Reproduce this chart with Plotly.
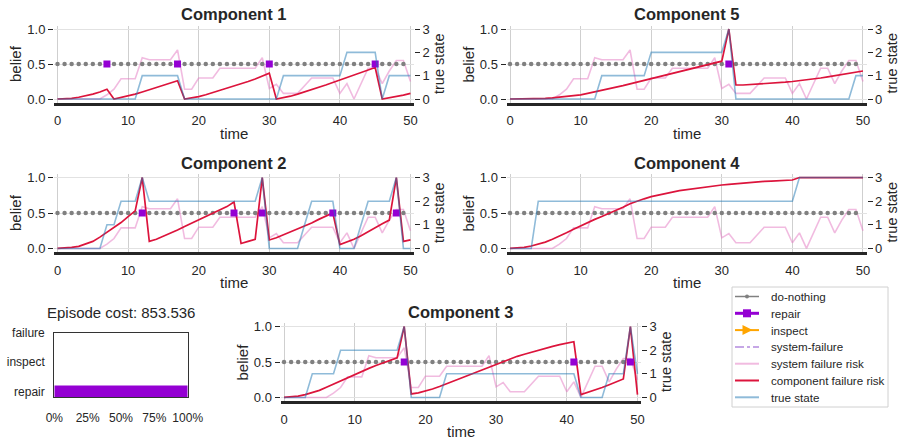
import plotly.graph_objects as go

# ---------------- data ----------------
T = list(range(51))          # belief / state time steps
ACT_T = list(range(50))      # action time steps

SYS_RISK = [0, 0, 0, 0, 0, 0, 0, 0.06, 0.14, 0.29, 0.29, 0.29, 0.59, 0.56, 0.56, 0.56, 0.56,
            0.70, 0.14, 0.14, 0.30, 0.30, 0.30, 0.44, 0.44, 0.44, 0.44, 0.44, 0.44, 0.59, 0.15,
            0.21, 0.08, 0.08, 0.08, 0.19, 0.30, 0.30, 0.30, 0.30, 0.08, 0.22, 0.0, 0.22, 0.44,
            0.44, 0.22, 0.40, 0.55, 0.55, 0.25]

C1_RISK = [0.0, 0.003, 0.01, 0.025, 0.045, 0.07, 0.10, 0.14, 0.0, 0.02, 0.045, 0.07, 0.10, 0.13,
           0.16, 0.19, 0.225, 0.26, 0.0, 0.015, 0.035, 0.06, 0.09, 0.12, 0.15, 0.18, 0.215, 0.25,
           0.285, 0.325, 0.37, 0.0, 0.015, 0.04, 0.07, 0.10, 0.135, 0.17, 0.20, 0.235, 0.27, 0.30,
           0.34, 0.37, 0.41, 0.45, 0.0, 0.015, 0.035, 0.055, 0.08]
C1_STATE = [0] * 12 + [1] * 6 + [0] * 14 + [1] * 9 + [2] * 5 + [0] + [1] * 4
C1_REPAIR = [7, 17, 30, 45]

C5_RISK = [0.0, 0.0, 0.001, 0.002, 0.004, 0.008, 0.015, 0.025, 0.035, 0.047, 0.06, 0.08, 0.10,
           0.12, 0.145, 0.17, 0.19, 0.215, 0.24, 0.265, 0.29, 0.315, 0.34, 0.36, 0.385, 0.41,
           0.435, 0.46, 0.485, 0.51, 0.54, 1.0, 0.20, 0.20, 0.205, 0.21, 0.215, 0.225, 0.23, 0.24,
           0.25, 0.26, 0.27, 0.285, 0.30, 0.315, 0.33, 0.345, 0.36, 0.38, 0.40]
C5_STATE = [0] * 13 + [1] * 7 + [2] * 11 + [3] + [0] * 17 + [1] * 2
C5_REPAIR = [31]

C2_RISK = [0.0, 0.005, 0.015, 0.03, 0.06, 0.10, 0.16, 0.23, 0.30, 0.365, 0.45, 0.53, 1.0, 0.10,
           0.13, 0.17, 0.21, 0.26, 0.31, 0.355, 0.40, 0.45, 0.50, 0.545, 0.59, 0.655, 0.07, 0.10,
           0.13, 1.0, 0.12, 0.15, 0.19, 0.23, 0.27, 0.31, 0.36, 0.41, 0.455, 0.50, 0.055, 0.09,
           0.13, 0.18, 0.24, 0.30, 0.35, 0.40, 1.0, 0.10, 0.12]
C2_STATE = [0] * 7 + [1] * 2 + [2] * 3 + [3] + [2] * 16 + [3] + [0] * 5 + [1] + [2] * 4 + \
           [0] * 3 + [1] + [2] * 4 + [3] + [0] * 2
C2_REPAIR = [12, 25, 29, 39, 48]

C4_RISK = [0.0, 0.005, 0.015, 0.035, 0.06, 0.09, 0.13, 0.17, 0.22, 0.27, 0.32, 0.37, 0.41, 0.45,
           0.49, 0.535, 0.58, 0.63, 0.67, 0.70, 0.73, 0.755, 0.775, 0.795, 0.815, 0.83, 0.845,
           0.86, 0.875, 0.885, 0.895, 0.905, 0.915, 0.925, 0.93, 0.94, 0.945, 0.95, 0.955, 0.96,
           0.965, 1.0, 1.0, 1.0, 1.0, 1.0, 1.0, 1.0, 1.0, 1.0, 1.0]
C4_STATE = [0] * 4 + [2] * 37 + [3] * 10
C4_REPAIR = []

C3_RISK = [0.0, 0.005, 0.02, 0.04, 0.07, 0.10, 0.145, 0.19, 0.24, 0.285, 0.33, 0.37, 0.41, 0.45,
           0.49, 0.525, 0.56, 1.0, 0.05, 0.065, 0.09, 0.12, 0.155, 0.19, 0.23, 0.27, 0.31, 0.35,
           0.39, 0.43, 0.47, 0.51, 0.545, 0.58, 0.61, 0.64, 0.67, 0.695, 0.72, 0.745, 0.765,
           0.785, 0.04, 0.07, 0.10, 0.14, 0.18, 0.22, 0.26, 1.0, 0.04]
C3_STATE = [0] * 4 + [1] * 4 + [2] * 9 + [3] + [0] * 5 + [1] * 19 + [0] * 4 + [1] * 3 + [3] + [1]
C3_REPAIR = [17, 41, 49]

COST_CATS = ["repair", "inspect", "failure"]
COST_SHARE = [100, 0, 0]
COST_TICKS = [0, 25, 50, 75, 100]
EPISODE_COST = 853.536

LEGEND_LABELS = ["do-nothing", "repair", "inspect", "system-failure", "system failure risk",
                 "component failure risk", "true state"]

# ---------------- styling ----------------
W, H = 899, 445
FONT = "Liberation Sans, Arial, sans-serif"
TXT = "#262626"
C_GRAY = "#808080"
C_REPAIR = "#9400D3"
C_INSPECT = "#FFA500"
C_SYSFAIL = "#b48ade"
C_SYSRISK = "rgba(227,119,194,0.5)"
C_COMPRISK = "#DC143C"
C_STATE = "rgba(31,119,180,0.5)"


def px(x):
    return x / W


def py(y):
    return 1 - y / H


# name, data, pixel box (left, right, top, bottom)
PANELS = [
    ("Component 1", C1_RISK, C1_STATE, C1_REPAIR, (54, 414, 25.5, 102.5)),
    ("Component 5", C5_RISK, C5_STATE, C5_REPAIR, (506.5, 866.5, 25.5, 102.5)),
    ("Component 2", C2_RISK, C2_STATE, C2_REPAIR, (54, 414, 174, 252)),
    ("Component 4", C4_RISK, C4_STATE, C4_REPAIR, (506.5, 866.5, 174, 252)),
    ("Component 3", C3_RISK, C3_STATE, C3_REPAIR, (280.5, 641, 323, 401)),
]

fig = go.Figure()
layout = dict(
    width=W, height=H, margin=dict(l=0, r=0, t=0, b=0, autoexpand=False),
    paper_bgcolor="white", plot_bgcolor="white",
    font=dict(family=FONT, color=TXT, size=13),
    showlegend=False,
)
annotations = []
shapes = []

for i, (title, risk, state, repairs, (l, r, t, b)) in enumerate(PANELS):
    xi = i + 1
    yb = 2 * i + 1
    yr = 2 * i + 2
    xn = "x" if xi == 1 else f"x{xi}"
    ybn = "y" if yb == 1 else f"y{yb}"
    yrn = f"y{yr}"

    nothing_y = [None if tt in repairs else 0.5 for tt in ACT_T]
    repair_y = [0.5 if tt in repairs else None for tt in ACT_T]

    fig.add_trace(go.Scatter(x=T, y=SYS_RISK, mode="lines", line=dict(color=C_SYSRISK, width=1.6),
                             name="system failure risk", xaxis=xn, yaxis=ybn))
    fig.add_trace(go.Scatter(x=ACT_T, y=nothing_y, mode="markers",
                             marker=dict(color=C_GRAY, size=4.5),
                             name="do-nothing", xaxis=xn, yaxis=ybn))
    fig.add_trace(go.Scatter(x=T, y=risk, mode="lines", line=dict(color=C_COMPRISK, width=1.7),
                             name="component failure risk", xaxis=xn, yaxis=ybn))
    fig.add_trace(go.Scatter(x=ACT_T, y=repair_y, mode="markers",
                             marker=dict(color=C_REPAIR, size=7, symbol="square"),
                             name="repair", xaxis=xn, yaxis=ybn))
    fig.add_trace(go.Scatter(x=T, y=state, mode="lines", line=dict(color=C_STATE, width=1.6),
                             name="true state", xaxis=xn, yaxis=yrn))

    key = "xaxis" if xi == 1 else f"xaxis{xi}"
    layout[key] = dict(domain=[px(l), px(r)], anchor=ybn, range=[-0.5, 50.5],
                       tickvals=[0, 10, 20, 30, 40, 50], showgrid=True, gridcolor="#cfcfcf",
                       gridwidth=1, zeroline=False, showline=True, linecolor=TXT, linewidth=3,
                       ticks="outside", ticklen=4, tickcolor="rgba(0,0,0,0)",
                       tickfont=dict(size=13), automargin=False)
    kb = "yaxis" if yb == 1 else f"yaxis{yb}"
    layout[kb] = dict(domain=[py(b), py(t)], anchor=xn, range=[-0.05, 1.05],
                      tickvals=[0, 0.5, 1.0], tickformat=".1f", showgrid=True,
                      gridcolor="#e2e2e2", zeroline=False, showline=False,
                      ticks="outside", ticklen=5, tickcolor=TXT, tickfont=dict(size=13),
                      automargin=False)
    layout[f"yaxis{yr}"] = dict(overlaying=ybn, side="right", anchor=xn, range=[-0.15, 3.15],
                                tickvals=[0, 1, 2, 3], showgrid=False, zeroline=False,
                                showline=False, ticks="outside", ticklen=5, tickcolor=TXT,
                                tickfont=dict(size=13), automargin=False)

    cx = (l + r) / 2
    cy = (t + b) / 2
    annotations.append(dict(text=f"<b>{title}</b>", x=px(cx), y=py(t - 11.5), xref="paper",
                            yref="paper", showarrow=False, xanchor="center", yanchor="middle",
                            font=dict(size=16.5, family=FONT, color=TXT)))
    annotations.append(dict(text="time", x=px(cx), y=py(b + 30.5), xref="paper", yref="paper",
                            showarrow=False, xanchor="center", yanchor="middle",
                            font=dict(size=15, family=FONT, color=TXT)))
    annotations.append(dict(text="belief", x=px(l - 39), y=py(cy), xref="paper", yref="paper",
                            showarrow=False, xanchor="center", yanchor="middle", textangle=-90,
                            font=dict(size=15, family=FONT, color=TXT)))
    annotations.append(dict(text="true state", x=px(r + 25), y=py(cy), xref="paper",
                            yref="paper", showarrow=False, xanchor="center", yanchor="middle",
                            textangle=-90, font=dict(size=14.5, family=FONT, color=TXT)))

# ---------------- cost bar chart ----------------
bl, br, bt, bb = 54.3, 187.7, 332.7, 397.3
fig.add_trace(go.Bar(x=COST_SHARE, y=[0, 1, 2], orientation="h", width=0.4,
                     marker=dict(color=C_REPAIR, line=dict(width=0)),
                     name="cost share", xaxis="x6", yaxis="y11"))
layout["xaxis6"] = dict(domain=[px(bl), px(br)], anchor="y11", range=[0, 100],
                        tickvals=COST_TICKS, ticktext=[f"{v}%" for v in COST_TICKS],
                        showgrid=False, zeroline=False, showline=True, mirror=True,
                        linecolor="#333333", linewidth=1.3, ticks="outside", ticklen=9,
                        tickcolor="rgba(0,0,0,0)", tickfont=dict(size=12), automargin=False)
layout["yaxis11"] = dict(domain=[py(bb), py(bt)], anchor="x6", range=[-0.2, 2.0],
                         tickvals=[0, 1, 2], ticktext=COST_CATS, showgrid=False, zeroline=False,
                         showline=True, mirror=True, linecolor="#333333", linewidth=1.3,
                         ticks="outside", ticklen=6, tickcolor="rgba(0,0,0,0)",
                         tickfont=dict(size=12), automargin=False)
annotations.append(dict(text=f"Episode cost: {EPISODE_COST}", x=px((bl + br) / 2), y=py(312),
                        xref="paper", yref="paper", showarrow=False, xanchor="center",
                        yanchor="middle", font=dict(size=15, family=FONT, color=TXT)))

# ---------------- legend (drawn as a matplotlib-style box) ----------------
LX0, LX1, LY0, LY1 = 732, 888, 287, 407
ROW0, ROW_STEP = 296.5, 16.8
SX0, SX1, TX = 735, 759, 769
shapes.append(dict(type="rect", xref="paper", yref="paper", x0=px(LX0), x1=px(LX1),
                   y0=py(LY1), y1=py(LY0), line=dict(color="#d0d0d0", width=1),
                   fillcolor="white", layer="above"))
leg_styles = [
    dict(color=C_GRAY, width=1.5, dash="solid"),
    dict(color=C_REPAIR, width=3, dash="solid"),
    dict(color=C_INSPECT, width=2, dash="solid"),
    dict(color=C_SYSFAIL, width=1.5, dash="dashdot"),
    dict(color=C_SYSRISK, width=2, dash="solid"),
    dict(color=C_COMPRISK, width=2, dash="solid"),
    dict(color=C_STATE, width=2, dash="solid"),
]
mx = (SX0 + SX1) / 2
for k, (lab, st) in enumerate(zip(LEGEND_LABELS, leg_styles)):
    yy = ROW0 + k * ROW_STEP
    shapes.append(dict(type="line", xref="paper", yref="paper", x0=px(SX0), x1=px(SX1),
                       y0=py(yy), y1=py(yy), line=st, layer="above"))
    annotations.append(dict(text=lab, x=px(TX), y=py(yy), xref="paper", yref="paper",
                            showarrow=False, xanchor="left", yanchor="middle",
                            font=dict(size=11.6, family=FONT, color=TXT)))
    if lab == "do-nothing":
        shapes.append(dict(type="circle", xref="paper", yref="paper", x0=px(mx - 2),
                           x1=px(mx + 2), y0=py(yy + 2), y1=py(yy - 2),
                           fillcolor=C_GRAY, line=dict(width=0), layer="above"))
    elif lab == "repair":
        shapes.append(dict(type="rect", xref="paper", yref="paper", x0=px(mx - 4),
                           x1=px(mx + 4), y0=py(yy + 4), y1=py(yy - 4),
                           fillcolor=C_REPAIR, line=dict(width=0), layer="above"))
    elif lab == "inspect":
        path = (f"M {px(mx - 4.5)} {py(yy - 5)} L {px(mx + 5.5)} {py(yy)} "
                f"L {px(mx - 4.5)} {py(yy + 5)} Z")
        shapes.append(dict(type="path", xref="paper", yref="paper", path=path,
                           fillcolor=C_INSPECT, line=dict(width=0), layer="above"))

layout["annotations"] = annotations
layout["shapes"] = shapes
fig.update_layout(**layout)
fig.write_html("out.html", config={"displayModeBar": False},
               post_script="document.body.style.margin='0px';")
